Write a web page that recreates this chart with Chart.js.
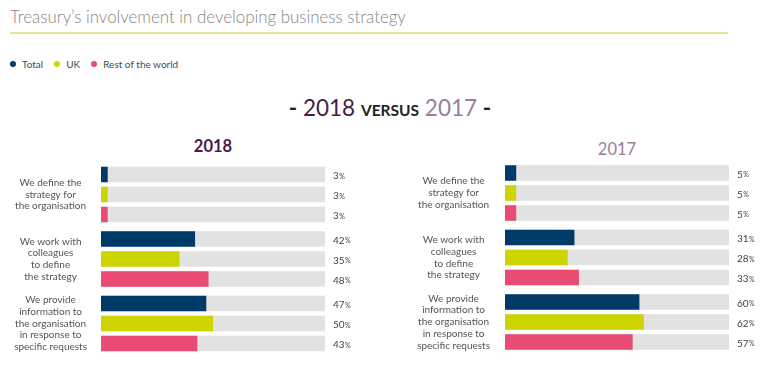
<!DOCTYPE html>
<html><head><meta charset="utf-8">
<script src="https://cdn.jsdelivr.net/npm/chart.js@4.4.0/dist/chart.umd.min.js"></script>
<style>
html,body{margin:0;padding:0;background:#fff;width:780px;height:392px;overflow:hidden;font-family:"Lato","Open Sans",sans-serif;}
#title{position:absolute;left:10px;top:6px;font-size:16.9px;font-weight:300;color:#858585;font-family:"Lato",sans-serif;white-space:nowrap;}
#rule{position:absolute;left:10px;top:32px;width:718px;height:2px;background:#e6e68c;}
#legend{position:absolute;left:10px;top:58px;font-size:10px;color:#4a4a4a;white-space:nowrap;}
#legend span.item{margin-right:11px;}
#legend i{display:inline-block;width:6px;height:6px;border-radius:50%;margin-right:6px;vertical-align:1px;}
#versus{position:absolute;left:0;width:780px;top:94px;text-align:center;font-size:22.5px;color:#222;white-space:nowrap;}
#versus b{font-weight:bold;}
#versus .small{font-size:15.5px;font-weight:bold;}
.yr{position:absolute;width:100px;text-align:center;}
canvas{position:absolute;}
</style></head>
<body>
<div id="title">Treasury’s involvement in developing business strategy</div>
<div id="rule"></div>
<div id="legend"></div>
<div id="versus"><b>-</b> <span style="color:#4a1a45">2018</span> <span class="small">VERSUS</span> <span style="color:#9c7b9d">2017</span> <b>-</b></div>
<div class="yr" id="t18" style="left:163px;top:136px;font-size:16.5px;color:#4a1a45;font-weight:bold">2018</div>
<div class="yr" id="t17" style="left:567px;top:139px;font-size:16.5px;color:#9c7b9d;">2017</div>
<div id="w1" style="position:absolute;left:0;top:130px;width:390px;height:240px"><canvas id="c1"></canvas></div>
<div id="w2" style="position:absolute;left:390px;top:130px;width:390px;height:240px"><canvas id="c2"></canvas></div>
<script>
const categories = [
  ["We define the","strategy for","the organisation"],
  ["We work with","colleagues","to define","the strategy"],
  ["We provide","information to","the organisation","in response to","specific requests"]
];
const seriesNames = ["Total","UK","Rest of the world"];
const seriesColors = ["#003b68","#cdd500","#e94b72"];
const total2018 = [3,42,47];
const uk2018 = [3,35,50];
const row2018 = [3,48,43];
const total2017 = [5,31,60];
const uk2017 = [5,28,62];
const row2017 = [5,33,57];

const leg = document.getElementById('legend');
seriesNames.forEach((n,i)=>{
  const s=document.createElement('span');s.className='item';
  s.innerHTML='<i style="background:'+seriesColors[i]+'"></i>'+n;
  leg.appendChild(s);
});

const trackPlugin = {
  id:'track',
  beforeDatasetsDraw(chart){
    const ctx=chart.ctx, xs=chart.scales.x;
    const x0=xs.getPixelForValue(0), x1=xs.getPixelForValue(100);
    ctx.save(); ctx.fillStyle='#e2e2e2';
    chart.data.datasets.forEach((d,i)=>{
      chart.getDatasetMeta(i).data.forEach(el=>{
        ctx.fillRect(x0, el.y-el.height/2, x1-x0, el.height);
      });
    });
    ctx.restore();
  },
  afterDatasetsDraw(chart){
    const ctx=chart.ctx, xs=chart.scales.x;
    const lx=xs.getPixelForValue(100)+8;
    ctx.save(); ctx.fillStyle='#444'; ctx.textBaseline='middle'; ctx.textAlign='left';
    chart.data.datasets.forEach((d,i)=>{
      chart.getDatasetMeta(i).data.forEach((el,j)=>{
        const v=String(d.data[j]);
        ctx.font='10px Lato, "Open Sans", sans-serif';
        ctx.fillText(v, lx, el.y+1.5);
        const w=ctx.measureText(v).width;
        ctx.font='7px Lato, "Open Sans", sans-serif';
        ctx.fillText('%', lx+w+0.5, el.y+2);
      });
    });
    ctx.restore();
  }
};

function makeChart(id, vals, axisW, pad, tickPad){
  return new Chart(document.getElementById(id), {
    type:'bar',
    data:{
      labels:categories,
      datasets:vals.map((v,i)=>({label:seriesNames[i],data:v,backgroundColor:seriesColors[i],borderWidth:0}))
    },
    options:{
      indexAxis:'y', responsive:true, maintainAspectRatio:false, animation:false,
      categoryPercentage:0.93, barPercentage:0.78,
      layout:{padding:pad},
      plugins:{legend:{display:false},tooltip:{enabled:false}},
      scales:{
        x:{display:false,min:0,max:100},
        y:{grid:{display:false,drawTicks:false},border:{display:false},
           afterFit(s){s.width=axisW;s.paddingTop=0;s.paddingBottom=0;},
           ticks:{crossAlign:'center',padding:tickPad,color:'#555',
             font:{family:'Lato, "Open Sans", sans-serif',size:10,lineHeight:1.17}}}
      }
    },
    plugins:[trackPlugin]
  });
}
makeChart('c1',[total2018,uk2018,row2018],101,{top:32.2,bottom:14.3,left:0,right:65},14);
makeChart('c2',[total2017,uk2017,row2017],115,{top:30.7,bottom:15.8,left:0,right:51},15);
</script>
</body></html>
